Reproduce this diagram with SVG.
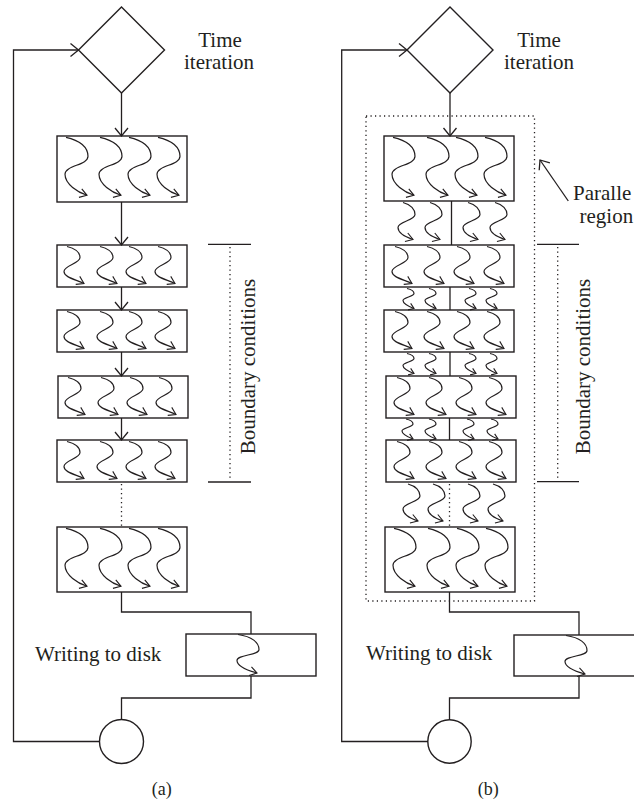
<svg xmlns="http://www.w3.org/2000/svg" xmlns:xlink="http://www.w3.org/1999/xlink" width="634" height="805" viewBox="0 0 634 805">
  <style>
    .box { fill: none; stroke: #231f20; stroke-width: 1.4; }
    .ln { fill: none; stroke: #231f20; stroke-width: 1.3; }
    .dot { fill: none; stroke: #231f20; stroke-width: 1.3; stroke-dasharray: 1.2 3.3; }
    .sq { fill: none; stroke: #231f20; stroke-width: 1.2; }
    .t { font-family: "Liberation Serif", "Times New Roman", serif; font-size: 21px; fill: #231f20; }
    .cap { font-family: "Liberation Serif", "Times New Roman", serif; font-size: 18px; fill: #231f20; }
  </style>
  <defs>
    <!-- open chevron for flow connectors -->
    <marker id="ah" markerUnits="userSpaceOnUse" viewBox="0 0 8 14" refX="8" refY="7" markerWidth="8" markerHeight="14" orient="auto" overflow="visible">
      <path d="M0,0.5 L8,7 L0,13.5" fill="none" stroke="#231f20" stroke-width="1.3"/>
    </marker>
    <!-- chevrons for the thread squiggles -->
    <marker id="sh" markerUnits="userSpaceOnUse" viewBox="0 0 7 10" refX="7" refY="5" markerWidth="7" markerHeight="10" orient="auto" overflow="visible">
      <path d="M0,0.5 L7,5 L0,9.5" fill="none" stroke="#231f20" stroke-width="1.1"/>
    </marker>
    <marker id="th" markerUnits="userSpaceOnUse" viewBox="0 0 5 8" refX="5" refY="4" markerWidth="5" markerHeight="8" orient="auto" overflow="visible">
      <path d="M0,0.5 L5,4 L0,7.5" fill="none" stroke="#231f20" stroke-width="1.1"/>
    </marker>
    <!-- thread squiggles: tall block, short block, between blocks, halo exchange, disk -->
    <path id="sqT" class="sq" marker-end="url(#sh)" d="M0,0 C14,3 22,10 22,19 C22,28 -1,28 -1,37 C-1,47 12,55 21,58"/>
    <path id="sqS" class="sq" marker-end="url(#sh)" d="M0,0 C8,2 13,6 13,11 C13,17 -3,19 -3,25 C-3,31 9,33 17,37"/>
    <path id="sqM" class="sq" marker-end="url(#sh)" d="M0,0 C8,2 12,7 12,12 C12,18 -5,19 -5,25 C-5,31 4,35 10,37"/>
    <path id="sqX" class="sq" marker-end="url(#th)" d="M0,0 C5,1 7,3 7,5 C7,8 -4,9 -4,12 C-4,15 2,18 7,20"/>
    <path id="sqD" class="sq" marker-end="url(#sh)" d="M0,0 C14,2 21,8 21,15 C21,21 -1,20 -1,26 C-1,32 10,36 19,38.5"/>
  </defs>

  <!-- ===================== panel (a): serial ===================== -->
  <g id="a-connectors">
    <line class="ln" x1="121.5" y1="93" x2="121.5" y2="136" marker-end="url(#ah)"/>
    <line class="ln" x1="121.5" y1="202" x2="121.5" y2="245" marker-end="url(#ah)"/>
    <line class="ln" x1="121.5" y1="287" x2="121.5" y2="310" marker-end="url(#ah)"/>
    <line class="ln" x1="121.5" y1="352" x2="121.5" y2="376" marker-end="url(#ah)"/>
    <line class="ln" x1="121.5" y1="418" x2="121.5" y2="440" marker-end="url(#ah)"/>
    <line class="dot" x1="121.5" y1="484" x2="121.5" y2="527"/>
    <polyline class="ln" points="121.5,592 121.5,612 251,612 251,634"/>
    <polyline class="ln" points="251,676 251,698 121.5,698 121.5,719.5"/>
    <polyline class="ln" points="99.5,741.5 13.5,741.5 13.5,50 78.5,50" marker-end="url(#ah)"/>
  </g>

  <g id="a-time">
    <polygon class="box" points="121.5,7 164.5,50 121.5,93 78.5,50"/>
    <text class="t" x="220" y="46.5" text-anchor="middle">Time</text>
    <text class="t" x="219" y="68.5" text-anchor="middle">iteration</text>
  </g>

  <g id="a-block1">
    <rect class="box" x="57" y="136" width="130" height="66"/>
    <use href="#sqT" x="66" y="137.3"/><use href="#sqT" x="100" y="137.3"/><use href="#sqT" x="129" y="137.3"/><use href="#sqT" x="158" y="137.3"/>
  </g>
  <g id="a-block2">
    <rect class="box" x="57" y="245" width="130" height="42"/>
    <use href="#sqS" x="67" y="246.5"/><use href="#sqS" x="100" y="246.5"/><use href="#sqS" x="129" y="246.5"/><use href="#sqS" x="158" y="246.5"/>
  </g>
  <g id="a-block3">
    <rect class="box" x="57" y="310" width="130" height="42"/>
    <use href="#sqS" x="67" y="311.5"/><use href="#sqS" x="100" y="311.5"/><use href="#sqS" x="129" y="311.5"/><use href="#sqS" x="158" y="311.5"/>
  </g>
  <g id="a-block4">
    <rect class="box" x="58" y="376" width="130" height="42"/>
    <use href="#sqS" x="68" y="377.5"/><use href="#sqS" x="101" y="377.5"/><use href="#sqS" x="130" y="377.5"/><use href="#sqS" x="159" y="377.5"/>
  </g>
  <g id="a-block5">
    <rect class="box" x="57" y="440" width="130" height="42"/>
    <use href="#sqS" x="67" y="441.5"/><use href="#sqS" x="100" y="441.5"/><use href="#sqS" x="129" y="441.5"/><use href="#sqS" x="158" y="441.5"/>
  </g>
  <g id="a-block6">
    <rect class="box" x="57" y="527" width="130" height="65"/>
    <use href="#sqT" x="66" y="528.3"/><use href="#sqT" x="100" y="528.3"/><use href="#sqT" x="129" y="528.3"/><use href="#sqT" x="158" y="528.3"/>
  </g>

  <g id="a-boundary">
    <line class="ln" x1="208" y1="244.3" x2="251" y2="244.3"/>
    <line class="ln" x1="208" y1="482" x2="251" y2="482"/>
    <line class="dot" x1="230" y1="247" x2="230" y2="480"/>
    <text class="t" transform="translate(255,366.5) rotate(-90)" text-anchor="middle">Boundary conditions</text>
  </g>

  <g id="a-disk">
    <rect class="box" x="186" y="634" width="130" height="42"/>
    <use href="#sqD" x="238" y="634.5"/>
    <text class="t" x="35" y="661">Writing to disk</text>
  </g>

  <g id="a-end">
    <circle class="box" cx="121.5" cy="741.5" r="22"/>
  </g>
  <text class="cap" x="161.7" y="795" text-anchor="middle">(a)</text>

  <!-- ===================== panel (b): parallel ===================== -->
  <g id="b-connectors">
    <line class="ln" x1="450" y1="93" x2="450" y2="136" marker-end="url(#ah)"/>
    <line class="ln" x1="451.5" y1="201" x2="451.5" y2="245"/>
    <line class="ln" x1="450" y1="287" x2="450" y2="310"/>
    <line class="ln" x1="450" y1="352" x2="450" y2="376"/>
    <line class="ln" x1="449.5" y1="418" x2="449.5" y2="440"/>
    <line class="dot" x1="449.5" y1="484" x2="449.5" y2="527"/>
    <polyline class="ln" points="449.5,592 449.5,612 579,612 579,635"/>
    <polyline class="ln" points="579,676 579,698 449.5,698 449.5,720"/>
    <polyline class="ln" points="428,741.5 341.7,741.5 341.7,50 407,50" marker-end="url(#ah)"/>
    <line class="ln" x1="568.3" y1="201" x2="540" y2="160" marker-end="url(#ah)"/>
  </g>

  <g id="b-time">
    <polygon class="box" points="450,7 493,50 450,93 407,50"/>
    <text class="t" x="539" y="46.5" text-anchor="middle">Time</text>
    <text class="t" x="539" y="68.5" text-anchor="middle">iteration</text>
  </g>

  <g id="b-region">
    <rect class="dot" x="366" y="116" width="168.5" height="485"/>
    <text class="t" x="573" y="200">Paralle</text>
    <text class="t" x="579.5" y="222.5">region</text>
  </g>

  <g id="b-block1">
    <rect class="box" x="384" y="136" width="130" height="65"/>
    <use href="#sqT" x="393" y="137.3"/><use href="#sqT" x="427" y="137.3"/><use href="#sqT" x="456" y="137.3"/><use href="#sqT" x="485" y="137.3"/>
  </g>
  <g id="b-exchange1">
    <use href="#sqM" x="403" y="202.5"/><use href="#sqM" x="430" y="202.5"/><use href="#sqM" x="468" y="202.5"/><use href="#sqM" x="495" y="202.5"/>
  </g>
  <g id="b-block2">
    <rect class="box" x="384" y="245" width="130" height="42"/>
    <use href="#sqS" x="395" y="246.5"/><use href="#sqS" x="427" y="246.5"/><use href="#sqS" x="457" y="246.5"/><use href="#sqS" x="487" y="246.5"/>
  </g>
  <g id="b-exchange2">
    <use href="#sqX" x="407" y="288.5"/><use href="#sqX" x="429" y="288.5"/><use href="#sqX" x="469" y="288.5"/><use href="#sqX" x="490" y="288.5"/>
  </g>
  <g id="b-block3">
    <rect class="box" x="384" y="310" width="130" height="42"/>
    <use href="#sqS" x="395" y="311.5"/><use href="#sqS" x="427" y="311.5"/><use href="#sqS" x="457" y="311.5"/><use href="#sqS" x="487" y="311.5"/>
  </g>
  <g id="b-exchange3">
    <use href="#sqX" x="407" y="353.5"/><use href="#sqX" x="429" y="353.5"/><use href="#sqX" x="469" y="353.5"/><use href="#sqX" x="490" y="353.5"/>
  </g>
  <g id="b-block4">
    <rect class="box" x="386" y="376" width="130" height="42"/>
    <use href="#sqS" x="397" y="377.5"/><use href="#sqS" x="429" y="377.5"/><use href="#sqS" x="459" y="377.5"/><use href="#sqS" x="489" y="377.5"/>
  </g>
  <g id="b-exchange4">
    <use href="#sqX" x="406" y="419"/><use href="#sqX" x="429" y="419"/><use href="#sqX" x="467" y="419"/><use href="#sqX" x="491" y="419"/>
  </g>
  <g id="b-block5">
    <rect class="box" x="386" y="440" width="130" height="42"/>
    <use href="#sqS" x="397" y="441.5"/><use href="#sqS" x="429" y="441.5"/><use href="#sqS" x="459" y="441.5"/><use href="#sqS" x="489" y="441.5"/>
  </g>
  <g id="b-exchange5">
    <use href="#sqM" x="408" y="484"/><use href="#sqM" x="433" y="484"/><use href="#sqM" x="468" y="484"/><use href="#sqM" x="493" y="484"/>
  </g>
  <g id="b-block6">
    <rect class="box" x="385" y="527" width="130" height="65"/>
    <use href="#sqT" x="394" y="528.3"/><use href="#sqT" x="428" y="528.3"/><use href="#sqT" x="457" y="528.3"/><use href="#sqT" x="486" y="528.3"/>
  </g>

  <g id="b-boundary">
    <line class="ln" x1="537" y1="244.3" x2="579" y2="244.3"/>
    <line class="ln" x1="537" y1="481.7" x2="579" y2="481.7"/>
    <line class="dot" x1="557.7" y1="247" x2="557.7" y2="480"/>
    <text class="t" transform="translate(589.5,366.5) rotate(-90)" text-anchor="middle">Boundary conditions</text>
  </g>

  <g id="b-disk">
    <rect class="box" x="514" y="635" width="130" height="41"/>
    <use href="#sqD" x="566" y="635.5"/>
    <text class="t" x="366" y="660">Writing to disk</text>
  </g>

  <g id="b-end">
    <circle class="box" cx="449.5" cy="741.5" r="21.7"/>
  </g>
  <text class="cap" x="488.3" y="795" text-anchor="middle">(b)</text>
</svg>
